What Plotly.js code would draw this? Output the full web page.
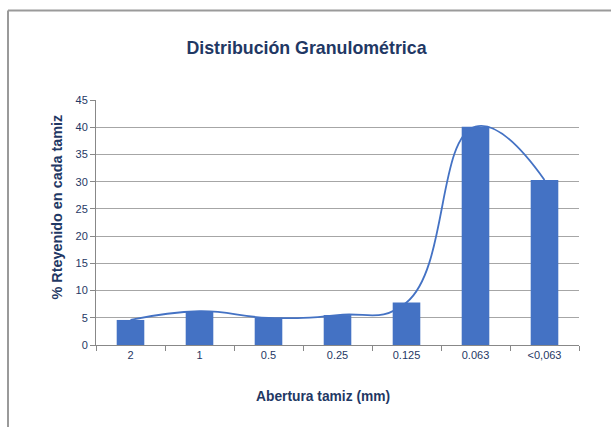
<!DOCTYPE html>
<html>
<head>
<meta charset="utf-8">
<script src="https://cdn.plot.ly/plotly-3.0.1.min.js"></script>
<style>
html,body{margin:0;padding:0;background:#fff;}
#wrap{position:relative;width:611px;height:427px;overflow:hidden;}
#chart{position:absolute;left:0;top:0;width:611px;height:427px;}
</style>
</head>
<body>
<div id="wrap">
<div id="chart"></div>
</div>
<script>
const categories = ["2", "1", "0.5", "0.25", "0.125", "0.063", "<0,063"];
const retained = [4.6, 6.2, 5.0, 5.5, 7.8, 40.1, 30.3];
const yTicks = [0, 5, 10, 15, 20, 25, 30, 35, 40, 45];

const navy = "#1F3864";
const blue = "#4472C4";

const traces = [
  {
    type: "bar",
    x: categories,
    y: retained,
    marker: {color: blue, line: {width: 0}},
    hoverinfo: "skip"
  },
  {
    type: "scatter",
    mode: "lines",
    x: categories,
    y: retained,
    line: {color: blue, width: 1.8, shape: "spline", smoothing: 1.3},
    hoverinfo: "skip"
  }
];

// frame edges in pixels of the 611x427 picture
const L = 96, T = 100, W = 483, H = 245;
const px = v => (v - L) / W;
const py = v => (T + H - v) / H;

const layout = {
  width: 611,
  height: 427,
  margin: {l: 96, r: 32, t: 100, b: 82},
  paper_bgcolor: "#ffffff",
  plot_bgcolor: "#ffffff",
  showlegend: false,
  bargap: 0.6,
  font: {family: "Liberation Sans, Arial, sans-serif", color: navy},
  title: {
    text: "<b>Distribución Granulométrica</b>",
    font: {family: "Liberation Sans, Arial, sans-serif", size: 17.8, color: navy},
    x: 306.5/611, xref: "container", xanchor: "center",
    y: 1 - 48/427, yanchor: "middle", yref: "container"
  },
  xaxis: {
    type: "category",
    tickson: "boundaries",
    ticks: "outside",
    ticklen: 5,
    tickcolor: "#888888",
    showline: true,
    linecolor: "#888888",
    linewidth: 1,
    showgrid: false,
    tickfont: {size: 11, color: navy}
  },
  yaxis: {
    range: [0, 45],
    tickvals: yTicks,
    ticks: "outside",
    ticklen: 5,
    tickcolor: "#888888",
    showline: true,
    linecolor: "#888888",
    linewidth: 1,
    showgrid: true,
    gridcolor: "#A6A6A6",
    gridwidth: 1,
    zeroline: false,
    tickfont: {size: 11, color: navy}
  },
  shapes: [
    {type: "line", xref: "paper", yref: "paper",
     x0: px(8), x1: px(611), y0: py(10.5), y1: py(10.5),
     line: {color: "#9A9A9A", width: 2}},
    {type: "line", xref: "paper", yref: "paper",
     x0: px(8), x1: px(8), y0: py(10.5), y1: py(427),
     line: {color: "#9A9A9A", width: 2}}
  ],
  annotations: [
    {text: "<b>Abertura tamiz (mm)</b>", xref: "paper", yref: "paper",
     x: (323 - 96)/483, y: -(396 - 345)/245, xanchor: "center", yanchor: "middle",
     showarrow: false, font: {size: 13.8, color: navy}},
    {text: "<b>% Rteyenido en cada tamiz</b>", xref: "paper", yref: "paper",
     x: -(96 - 56)/483, y: (345 - 207.5)/245, xanchor: "center", yanchor: "middle",
     textangle: -90, showarrow: false, font: {size: 14.4, color: navy}}
  ]
};

Plotly.newPlot("chart", traces, layout, {displayModeBar: false, staticPlot: true});
</script>
</body>
</html>
